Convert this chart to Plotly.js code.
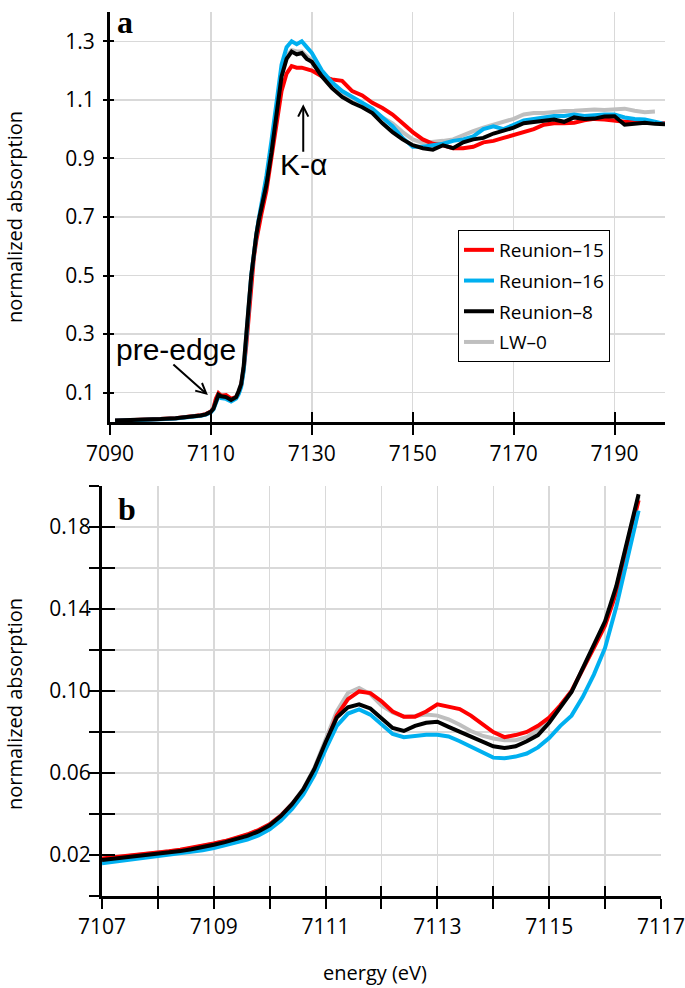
<!DOCTYPE html>
<html>
<head>
<meta charset="utf-8">
<script src="https://cdn.plot.ly/plotly-3.0.1.min.js"></script>
<style>
  body { margin: 0; background: #fff; }
  #plotArea { width: 685px; height: 988px; }
</style>
</head>
<body>
<div id="plotArea"></div>
<script>
// series names (legend order)
var names = ["Reunion\u201315", "Reunion\u201316", "Reunion\u20138", "LW\u20130"];

// panel a: full XANES scan
var energyA = [7091, 7094, 7097, 7100, 7103, 7106, 7108, 7109, 7110, 7110.5,
  7111, 7111.5, 7112, 7113, 7114, 7115, 7115.5, 7116, 7116.5, 7117,
  7117.5, 7118, 7118.5, 7119, 7119.5, 7120, 7121, 7122, 7123, 7124,
  7125, 7126, 7127, 7128, 7129, 7130, 7132, 7134, 7136, 7138,
  7140, 7142, 7144, 7146, 7148, 7150, 7152, 7154, 7156, 7158,
  7160, 7162, 7164, 7166, 7168, 7170, 7172, 7174, 7176, 7178,
  7180, 7182, 7184, 7186, 7188, 7190, 7192, 7194, 7196, 7198, 7200];

var reunion15A = [0.004, 0.005, 0.007, 0.010, 0.013, 0.018, 0.023, 0.027, 0.036, 0.047,
  0.080, 0.098, 0.090, 0.092, 0.080, 0.085, 0.100, 0.125, 0.180, 0.260,
  0.370, 0.470, 0.560, 0.620, 0.670, 0.710, 0.790, 0.900, 1.020, 1.130,
  1.190, 1.215, 1.210, 1.210, 1.205, 1.200, 1.180, 1.170, 1.165, 1.130,
  1.115, 1.090, 1.072, 1.050, 1.020, 0.990, 0.965, 0.950, 0.945, 0.935,
  0.935, 0.940, 0.955, 0.960, 0.970, 0.980, 0.990, 1.000, 1.015, 1.020,
  1.020, 1.022, 1.030, 1.035, 1.033, 1.030, 1.025, 1.028, 1.027, 1.022, 1.020];

var reunion16A = [0.004, 0.005, 0.007, 0.009, 0.012, 0.016, 0.021, 0.025, 0.033, 0.043,
  0.070, 0.088, 0.082, 0.079, 0.070, 0.080, 0.095, 0.120, 0.175, 0.270,
  0.390, 0.500, 0.580, 0.640, 0.695, 0.740, 0.840, 0.960, 1.100, 1.220,
  1.280, 1.300, 1.290, 1.300, 1.280, 1.260, 1.200, 1.160, 1.130, 1.110,
  1.090, 1.070, 1.040, 1.010, 0.970, 0.940, 0.940, 0.945, 0.950, 0.960,
  0.965, 0.975, 1.000, 1.010, 1.000, 1.015, 1.030, 1.035, 1.040, 1.045,
  1.045, 1.050, 1.045, 1.048, 1.050, 1.050, 1.040, 1.035, 1.033, 1.025, 1.017];

var reunion8A = [0.005, 0.006, 0.008, 0.010, 0.013, 0.017, 0.022, 0.026, 0.035, 0.045,
  0.075, 0.093, 0.088, 0.085, 0.075, 0.085, 0.105, 0.130, 0.190, 0.280,
  0.400, 0.500, 0.580, 0.640, 0.690, 0.730, 0.810, 0.920, 1.060, 1.180,
  1.240, 1.265, 1.255, 1.260, 1.240, 1.230, 1.180, 1.140, 1.110, 1.090,
  1.075, 1.055, 1.020, 0.990, 0.965, 0.945, 0.935, 0.930, 0.945, 0.935,
  0.955, 0.965, 0.970, 0.985, 0.995, 1.005, 1.020, 1.025, 1.030, 1.033,
  1.025, 1.040, 1.035, 1.036, 1.043, 1.044, 1.015, 1.020, 1.022, 1.018, 1.017];

var lw0A = [0.005, 0.006, 0.008, 0.010, 0.013, 0.018, 0.023, 0.027, 0.036, 0.047,
  0.080, 0.099, 0.092, 0.087, 0.079, 0.086, 0.105, 0.130, 0.190, 0.280,
  0.400, 0.500, 0.580, 0.640, 0.690, 0.735, 0.830, 0.940, 1.070, 1.190,
  1.250, 1.270, 1.265, 1.265, 1.250, 1.235, 1.190, 1.150, 1.125, 1.100,
  1.085, 1.065, 1.040, 1.020, 0.990, 0.965, 0.953, 0.955, 0.960, 0.965,
  0.980, 0.993, 1.005, 1.015, 1.025, 1.035, 1.050, 1.055, 1.055, 1.060,
  1.062, 1.063, 1.066, 1.067, 1.065, 1.067, 1.070, 1.063, 1.058, 1.060, null];

// panel b: pre-edge zoom
var energyB = [7107.0, 7107.2, 7107.4, 7107.6, 7107.8, 7108.0, 7108.2, 7108.4, 7108.6, 7108.8,
  7109.0, 7109.2, 7109.4, 7109.6, 7109.8, 7110.0, 7110.2, 7110.4, 7110.6, 7110.8,
  7111.0, 7111.2, 7111.4, 7111.6, 7111.8, 7112.0, 7112.2, 7112.4, 7112.6, 7112.8,
  7113.0, 7113.2, 7113.4, 7113.6, 7113.8, 7114.0, 7114.2, 7114.4, 7114.6, 7114.8,
  7115.0, 7115.2, 7115.4, 7115.6, 7115.8, 7116.0, 7116.2, 7116.4, 7116.6];

var reunion15B = [0.0183, 0.0188, 0.0194, 0.0199, 0.0205, 0.0211, 0.0218, 0.0226, 0.0235, 0.0245,
  0.0256, 0.0268, 0.0282, 0.0300, 0.0322, 0.0350, 0.0392, 0.0448, 0.0515, 0.0610,
  0.0740, 0.0880, 0.0960, 0.0998, 0.0990, 0.0950, 0.0900, 0.0875, 0.0875, 0.0900,
  0.0935, 0.0925, 0.0912, 0.0880, 0.0840, 0.0800, 0.0775, 0.0785, 0.0800, 0.0830,
  0.0870, 0.0930, 0.1000, 0.1100, 0.1210, 0.1320, 0.1480, 0.1710, 0.1930];

var reunion16B = [0.0160, 0.0167, 0.0174, 0.0180, 0.0186, 0.0192, 0.0198, 0.0205, 0.0214, 0.0223,
  0.0234, 0.0246, 0.0259, 0.0275, 0.0296, 0.0325, 0.0368, 0.0425, 0.0495, 0.0590,
  0.0715, 0.0830, 0.0890, 0.0910, 0.0885, 0.0835, 0.0790, 0.0775, 0.0780, 0.0786,
  0.0786, 0.0778, 0.0755, 0.0728, 0.0700, 0.0675, 0.0672, 0.0680, 0.0695, 0.0725,
  0.0770, 0.0830, 0.0880, 0.0970, 0.1080, 0.1210, 0.1410, 0.1640, 0.1880];

var reunion8B = [0.0176, 0.0182, 0.0188, 0.0193, 0.0198, 0.0204, 0.0211, 0.0219, 0.0228, 0.0238,
  0.0250, 0.0263, 0.0276, 0.0293, 0.0315, 0.0345, 0.0390, 0.0448, 0.0520, 0.0620,
  0.0750, 0.0870, 0.0920, 0.0935, 0.0915, 0.0865, 0.0820, 0.0805, 0.0830, 0.0845,
  0.0850, 0.0825, 0.0800, 0.0775, 0.0750, 0.0730, 0.0722, 0.0730, 0.0755, 0.0785,
  0.0845, 0.0920, 0.0995, 0.1110, 0.1230, 0.1340, 0.1510, 0.1740, 0.1960];

var lw0B = [0.0180, 0.0186, 0.0192, 0.0197, 0.0203, 0.0209, 0.0216, 0.0224, 0.0233, 0.0243,
  0.0255, 0.0267, 0.0281, 0.0298, 0.0320, 0.0350, 0.0393, 0.0450, 0.0522, 0.0625,
  0.0760, 0.0900, 0.0990, 0.1015, 0.0985, 0.0930, 0.0895, 0.0875, 0.0878, 0.0885,
  0.0880, 0.0862, 0.0835, 0.0805, 0.0782, 0.0768, 0.0760, 0.0760, 0.0775, 0.0810,
  0.0860, 0.0925, 0.0995, 0.1105, 0.1220, 0.1330, 0.1500, 0.1730, 0.1950];

var colors = ["#ff0000", "#00b0f0", "#000000", "#bfbfbf"];
var gridColor = "#d9d9d9";
var tickFont = {family: "Open Sans, sans-serif", size: 21, color: "#000"};

function line(x, y, i, ax, show) {
    return {
        x: x, y: y, name: names[i], type: "scatter", mode: "lines",
        xaxis: ax[0], yaxis: ax[1],
        line: {color: colors[i], width: 4},
        showlegend: show, legendrank: i + 1, legendgroup: "g" + i
    };
}

// drawing order: grey, red, blue, black on top
// the black traces sit on the overlay axes, which carry the inside half of each tick
var data = [
    line(energyA, lw0A, 3, ["x", "y"], true),
    line(energyA, reunion15A, 0, ["x", "y"], true),
    line(energyA, reunion16A, 1, ["x", "y"], true),
    line(energyA, reunion8A, 2, ["x3", "y3"], true),
    line(energyB, lw0B, 3, ["x2", "y2"], false),
    line(energyB, reunion15B, 0, ["x2", "y2"], false),
    line(energyB, reunion16B, 1, ["x2", "y2"], false),
    line(energyB, reunion8B, 2, ["x4", "y4"], false)
];

var axisBase = {
    showline: true, linecolor: "#000", linewidth: 3,
    ticks: "outside", tickcolor: "#000", tickwidth: 2,
    gridcolor: gridColor, gridwidth: 1.5, showgrid: true,
    zeroline: false, tickfont: tickFont, ticklabeloverflow: "allow"
};
var overlayBase = {
    showline: false, showgrid: false, zeroline: false, showticklabels: false,
    ticks: "inside", tickcolor: "#000", tickwidth: 2
};

var domAx = [110 / 685, 665 / 685], domAy = [1 - 422 / 988, 1 - 12 / 988];
var domBx = [102 / 685, 661 / 685], domBy = [1 - 896 / 988, 1 - 486 / 988];

function label(text, px, py, size, family, extra) {
    return Object.assign({
        text: text, xref: "paper", yref: "paper", x: px / 685, y: 1 - py / 988,
        xanchor: "center", yanchor: "middle", showarrow: false,
        font: {family: family, size: size, color: "#000"}
    }, extra || {});
}

var layout = {
    width: 685, height: 988,
    margin: {l: 0, r: 0, t: 0, b: 0},
    paper_bgcolor: "#fff", plot_bgcolor: "#fff",
    showlegend: true,
    legend: {
        x: 458 / 685, y: 1 - 230 / 988, xanchor: "left", yanchor: "top",
        bgcolor: "#fff", bordercolor: "#000", borderwidth: 1,
        font: {family: "Open Sans, sans-serif", size: 19, color: "#000"},
        tracegroupgap: 3, itemwidth: 30
    },
    xaxis: Object.assign({}, axisBase, {
        domain: domAx, anchor: "y", range: [7090, 7200],
        tick0: 7090, dtick: 20, ticklen: 10, ticklabelstandoff: 1
    }),
    yaxis: Object.assign({}, axisBase, {
        domain: domAy, anchor: "x", range: [0, 1.4],
        tick0: 0.1, dtick: 0.2, ticklen: 4, tickformat: ".1f", ticklabelstandoff: 4
    }),
    xaxis3: Object.assign({}, overlayBase, {
        overlaying: "x", anchor: "y3", range: [7090, 7200],
        tick0: 7090, dtick: 20, ticklen: 10
    }),
    yaxis3: Object.assign({}, overlayBase, {
        overlaying: "y", anchor: "x3", range: [0, 1.4],
        tick0: 0.1, dtick: 0.2, ticklen: 4
    }),
    xaxis2: Object.assign({}, axisBase, {
        domain: domBx, anchor: "y2", range: [7107, 7117.001],
        tick0: 7107, dtick: 2, ticklen: 10, ticklabelstandoff: 0,
        minor: {tick0: 7107, dtick: 1, ticks: "outside", ticklen: 10, tickwidth: 2,
                tickcolor: "#000", showgrid: true, gridcolor: gridColor, gridwidth: 1.5}
    }),
    yaxis2: Object.assign({}, axisBase, {
        domain: domBy, anchor: "x2", range: [0, 0.2],
        tick0: 0.02, dtick: 0.04, ticklen: 10, tickformat: ".2f", ticklabelstandoff: -6,
        minor: {tick0: 0, dtick: 0.02, ticks: "outside", ticklen: 10, tickwidth: 2,
                tickcolor: "#000", showgrid: true, gridcolor: gridColor, gridwidth: 1.5}
    }),
    xaxis4: Object.assign({}, overlayBase, {
        overlaying: "x2", anchor: "y4", range: [7107, 7117.001],
        tick0: 7107, dtick: 1, ticklen: 10
    }),
    yaxis4: Object.assign({}, overlayBase, {
        overlaying: "y2", anchor: "x4", range: [0, 0.2],
        tick0: 0, dtick: 0.02, ticklen: 13
    }),
    annotations: [
        label("<b>a</b>", 125, 22, 32, "Liberation Serif, serif"),
        label("<b>b</b>", 127, 509, 32, "Liberation Serif, serif"),
        label("normalized absorption", 14, 217, 20, "Open Sans, sans-serif", {textangle: -90}),
        label("normalized absorption", 14, 704, 20, "Open Sans, sans-serif", {textangle: -90}),
        label("energy (eV)", 375, 972, 20, "Open Sans, sans-serif"),
        // K-alpha label and arrow
        label("K-\u03b1", 303, 164, 30, "Liberation Sans, Arial, sans-serif"),
        {text: "", xref: "x", yref: "y", x: 7128.3, y: 1.085, ax: 0, ay: 49,
         showarrow: true, arrowhead: 5, arrowsize: 1, arrowwidth: 2, arrowcolor: "#000"},
        // pre-edge label and arrow
        label("pre-edge", 176, 349, 30, "Liberation Sans, Arial, sans-serif"),
        {text: "", xref: "x", yref: "y", x: 7109.4, y: 0.092, ax: -36, ay: -32,
         showarrow: true, arrowhead: 5, arrowsize: 1, arrowwidth: 2, arrowcolor: "#000"}
    ]
};

Plotly.newPlot("plotArea", data, layout, {staticPlot: true});
</script>
</body>
</html>
